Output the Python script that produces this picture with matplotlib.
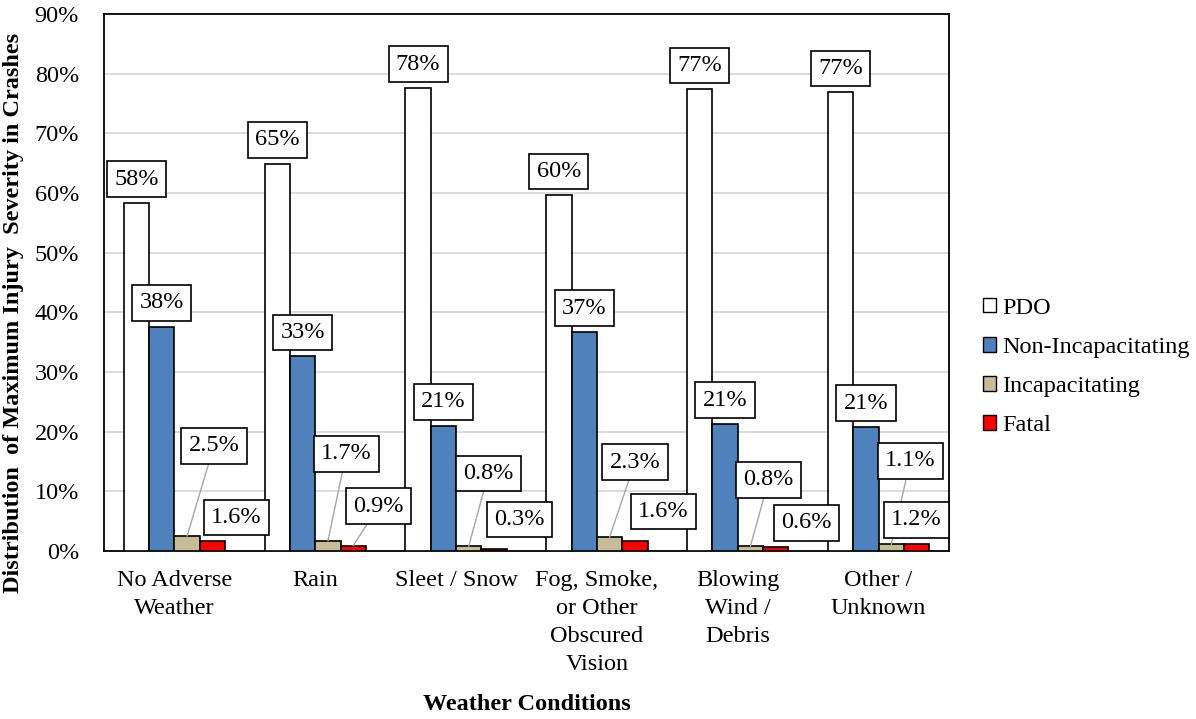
import numpy as np
import matplotlib.pyplot as plt
from matplotlib.patches import Patch

plt.rcParams['font.family'] = ['Liberation Serif', 'DejaVu Serif']
FS = 17.5

conditions = ['No Adverse\nWeather', 'Rain', 'Sleet / Snow',
              'Fog, Smoke,\nor Other\nObscured\nVision', 'Blowing\nWind /\nDebris',
              'Other /\nUnknown']
severities = ['PDO', 'Non-Incapacitating', 'Incapacitating', 'Fatal']

pdo = [58.3, 64.9, 77.6, 59.6, 77.4, 76.9]
non_incap = [37.6, 32.6, 21.0, 36.7, 21.3, 20.8]
incap = [2.5, 1.7, 0.8, 2.3, 0.8, 1.1]
fatal = [1.6, 0.9, 0.3, 1.6, 0.6, 1.2]

colors = ['#ffffff', '#4f81bd', '#c4bd97', '#ff0000']
fmts = ['{:.0f}%', '{:.0f}%', '{:.1f}%', '{:.1f}%']

# where the small-value labels sit: x shift from the bar, box centre height (%)
incap_lbl = [(0.19, 17.6), (0.13, 16.3), (0.14, 13.0), (0.18, 14.9), (0.13, 11.9), (0.135, 15.1)]
fatal_lbl = [(0.17, 5.6), (0.18, 7.5), (0.18, 5.3), (0.20, 6.6), (0.215, 4.7), (0.0, 5.2)]

fig = plt.figure(figsize=(11.96, 7.19), dpi=100)
ax = fig.add_axes([104 / 1196, 1 - 551 / 719, 845 / 1196, 537 / 719])

x = np.arange(len(conditions))
w = 0.18
series = [pdo, non_incap, incap, fatal]

for i, (vals, col) in enumerate(zip(series, colors)):
    xs = x + (i - 1.5) * w
    ax.bar(xs, vals, w, color=col, edgecolor='black', linewidth=1.2, zorder=3)
    for j, v in enumerate(vals):
        txt = fmts[i].format(v)
        if i < 2:
            lx, ly = xs[j], v + 4.0
        else:
            dx, ly = (incap_lbl if i == 2 else fatal_lbl)[j]
            lx = xs[j] + dx
        box = dict(boxstyle='square,pad=0.3', fc='white', ec='black', lw=1.2)
        arrow = None
        if i >= 2 and ly - v > 5:
            arrow = dict(arrowstyle='-', color='#a6a6a6', lw=1.0, shrinkA=0, shrinkB=0)
        ax.annotate(txt, xy=(xs[j], v), xytext=(lx, ly), ha='center', va='center',
                    fontsize=FS, bbox=box, arrowprops=arrow, zorder=5,
                    annotation_clip=False)

ax.set_xlim(-0.5, len(conditions) - 0.5)
ax.set_ylim(0, 90)
ax.set_yticks(np.arange(0, 91, 10))
ax.set_yticklabels(['{}%'.format(t) for t in range(0, 91, 10)], fontsize=FS)
ax.set_xticks(x)
ax.set_xticklabels(conditions, fontsize=FS, linespacing=1.42)
ax.tick_params(axis='both', length=0)
ax.tick_params(axis='y', pad=18)
ax.tick_params(axis='x', pad=14)
ax.grid(axis='y', color='#d9d9d9', lw=1.3, zorder=0)
for sp in ax.spines.values():
    sp.set_linewidth(1.3)
    sp.set_color('black')

fig.text(527 / 1196, 1 - 705 / 719, 'Weather Conditions', ha='center', va='center',
         fontsize=FS, fontweight='bold')
fig.text(14 / 1196, 1 - 313 / 719, 'Distribution  of Maximum Injury  Severity in Crashes',
         rotation=90, ha='center', va='center', fontsize=FS, fontweight='bold')

handles = [Patch(facecolor=c, edgecolor='black', lw=1.0) for c in colors]
fig.legend(handles, severities, loc='center left', bbox_to_anchor=(983 / 1196, 1 - 367 / 719),
           frameon=False, fontsize=FS, handlelength=0.55, handleheight=0.55,
           handletextpad=0.25, labelspacing=0.75, borderaxespad=0, borderpad=0)

fig.savefig('out.png', dpi=100)
